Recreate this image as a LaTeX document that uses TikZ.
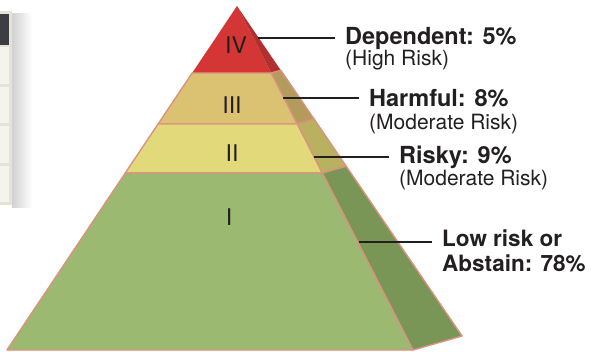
\documentclass[tikz,border=0pt]{standalone}
\usepackage{fontspec}
\setmainfont{TeX Gyre Heros}
\definecolor{inkdark}{HTML}{231F20}
\definecolor{edgepink}{HTML}{D9937F}
\definecolor{redfront}{HTML}{D43535}
\definecolor{redside}{HTML}{B32E2E}
\definecolor{tanfront}{HTML}{DBC172}
\definecolor{tanside}{HTML}{B39B5C}
\definecolor{yelfront}{HTML}{E2DA7A}
\definecolor{yelside}{HTML}{B9B15F}
\definecolor{grnfront}{HTML}{9BB971}
\definecolor{grnside}{HTML}{7A9656}
\definecolor{tabframe}{HTML}{E8E2D6}
\definecolor{tabhead}{HTML}{3D3D44}
\definecolor{tabcell}{HTML}{F4F4EE}
\tikzset{
  band/.style={draw=edgepink, line width=1.4pt, line join=round},
  leader/.style={draw=inkdark, line width=2pt},
  tier/.style={font=\fontsize{23}{25}\selectfont, text=inkdark, inner sep=0pt},
  lab/.style={font=\bfseries\fontsize{23.5}{26}\selectfont, text=inkdark, anchor=base west, inner xsep=10pt, inner ysep=0pt},
  lowlab/.style={lab, font=\bfseries\fontsize{22.5}{25}\selectfont},
  sublab/.style={font=\fontsize{21}{23}\selectfont, text=inkdark, anchor=base west, inner xsep=10pt, inner ysep=0pt}
}
\begin{document}
\begin{tikzpicture}[x=1pt,y=-1pt]
  \useasboundingbox (0,0) rectangle (591,352);
  \fill[white] (0,0) rectangle (591,352);
  % table at the left edge
  \shade[left color=black!18, right color=white] (12,14) rectangle (32,208);
  \fill[tabframe] (0,11) rectangle (12,205);
  \fill[tabhead] (0,14) rectangle (9,45);
  \fill[tabcell] (0,47) rectangle (9,84);
  \fill[tabcell] (0,87) rectangle (9,123);
  \fill[tabcell] (0,126) rectangle (9,163);
  \fill[tabcell] (0,166) rectangle (9,202);
  % pyramid
  \fill[redfront] (237,6) -- (271.3,73) -- (192.2,73) -- cycle;
  \fill[redside] (237,6) -- (280.8,70.3) -- (271.3,73) -- cycle;
  \filldraw[band,fill=tanfront] (192.2,73) -- (271.3,73) -- (297.4,124) -- (158.1,124) -- cycle;
  \filldraw[band,fill=tanside] (271.3,73) -- (280.8,70.3) -- (314.2,119.2) -- (297.4,124) -- cycle;
  \filldraw[band,fill=yelfront] (158.1,124) -- (297.4,124) -- (322.4,173) -- (125.3,173) -- cycle;
  \filldraw[band,fill=yelside] (297.4,124) -- (314.2,119.2) -- (346.2,166.2) -- (322.4,173) -- cycle;
  \filldraw[band,fill=grnfront] (125.3,173) -- (322.4,173) -- (413,350) -- (7,350) -- cycle;
  \filldraw[band,fill=grnside] (322.4,173) -- (346.2,166.2) -- (462,336) -- (413,350) -- cycle;
  \node[tier] (tIV) at (236,45) {IV};
  \node[tier] (tIII) at (232,105) {III};
  \node[tier] (tII) at (232,153) {II};
  \node[tier] (tI) at (229,217) {I};
  % labels
  \coordinate (pIV) at (258,38);
  \coordinate (pIII) at (283,98);
  \coordinate (pII) at (314,157);
  \coordinate (pI) at (359,242);
  \node[lab] (dep) at (335,45) {Dependent: 5\%};
  \node[sublab] (depsub) at (335,66) {(High Risk)};
  \node[lab] (harm) at (359,107) {Harmful: 8\%};
  \node[sublab] (harmsub) at (359,130) {(Moderate Risk)};
  \node[lab] (risky) at (389,164) {Risky: 9\%};
  \node[sublab] (riskysub) at (389,186) {(Moderate Risk)};
  \node[lowlab] (low) at (432,247) {Low risk or};
  \node[lowlab] (abst) at (432,272) {Abstain: 78\%};
  \draw[leader] (pIV) -- (pIV -| dep.west);
  \draw[leader] (pIII) -- (pIII -| harm.west);
  \draw[leader] (pII) -- (pII -| risky.west);
  \draw[leader] (pI) -- (pI -| low.west);
\end{tikzpicture}
\end{document}
